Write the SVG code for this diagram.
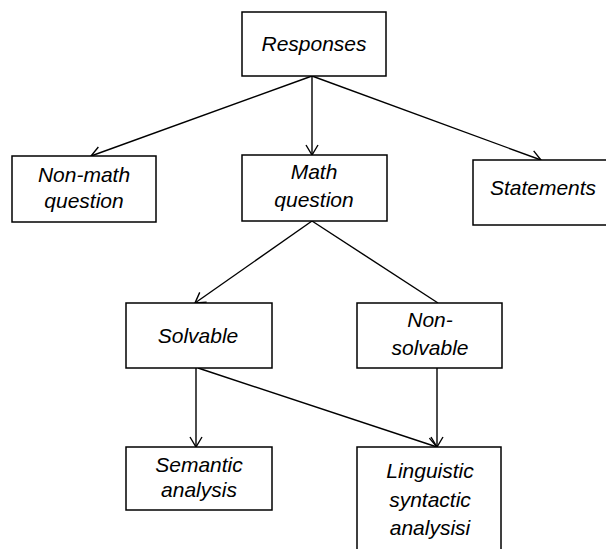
<svg xmlns="http://www.w3.org/2000/svg" width="606" height="549" viewBox="0 0 606 549">
<style>
.box{fill:#fff;stroke:#000;stroke-width:1.5}
.t{font-family:"Liberation Sans",Arial,sans-serif;font-style:italic;font-size:21px;fill:#000;text-anchor:middle}
.c{stroke:#000;stroke-width:1.4;fill:none}
</style>
<defs>
<marker id="a" viewBox="0 0 12 14" refX="11" refY="7" markerWidth="12" markerHeight="14" markerUnits="userSpaceOnUse" orient="auto">
<path d="M1,1 L11,7 L1,13" fill="none" stroke="#000" stroke-width="1.4"/>
</marker>
</defs>
<g id="connectors">
<line class="c" x1="312" y1="76" x2="91" y2="156" marker-end="url(#a)"/>
<line class="c" x1="312" y1="76" x2="312" y2="155" marker-end="url(#a)"/>
<line class="c" x1="312" y1="76" x2="541" y2="160" marker-end="url(#a)"/>
<line class="c" x1="312" y1="221" x2="195" y2="303" marker-end="url(#a)"/>
<line class="c" x1="312" y1="221" x2="438" y2="303"/>
<line class="c" x1="196" y1="368" x2="196" y2="447" marker-end="url(#a)"/>
<line class="c" x1="198" y1="368" x2="437" y2="447" marker-end="url(#a)"/>
<line class="c" x1="437" y1="368" x2="437" y2="447" marker-end="url(#a)"/>
</g>
<g id="responses"><rect class="box" x="242" y="12" width="144" height="64"/><text class="t" x="314" y="51">Responses</text></g>
<g id="nonmath"><rect class="box" x="12" y="156" width="144" height="66"/><text class="t" x="84" y="182">Non-math</text><text class="t" x="84" y="208">question</text></g>
<g id="math"><rect class="box" x="242" y="155" width="145" height="66"/><text class="t" x="314" y="179">Math</text><text class="t" x="314" y="207">question</text></g>
<g id="statements"><rect class="box" x="473" y="160" width="140" height="65"/><text class="t" x="543" y="195">Statements</text></g>
<g id="solvable"><rect class="box" x="126" y="303" width="146" height="65"/><text class="t" x="198" y="343">Solvable</text></g>
<g id="nonsolvable"><rect class="box" x="357" y="303" width="145" height="65"/><text class="t" x="430" y="327">Non-</text><text class="t" x="430" y="355">solvable</text></g>
<g id="semantic"><rect class="box" x="126" y="447" width="146" height="63"/><text class="t" x="199" y="472">Semantic</text><text class="t" x="199" y="497">analysis</text></g>
<g id="linguistic"><rect class="box" x="357" y="447" width="144" height="110"/><text class="t" x="430" y="478">Linguistic</text><text class="t" x="430" y="507">syntactic</text><text class="t" x="430" y="535">analysisi</text></g>
</svg>
